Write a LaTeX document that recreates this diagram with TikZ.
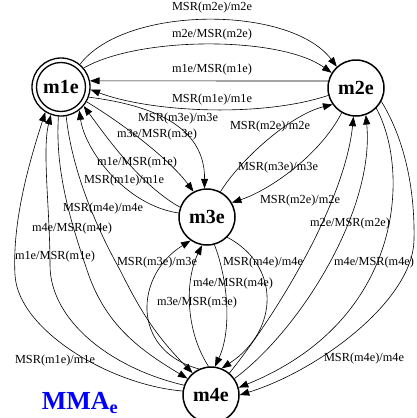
\documentclass[tikz,border=0pt]{standalone}
\usepackage{fontspec}
\setmainfont{Liberation Serif}
\usetikzlibrary{arrows.meta}
\newcommand\mylabfont{\fontsize{12.3}{14}\selectfont}
\newcommand\mynodefont{\fontsize{20}{24}\selectfont\bfseries}
\begin{document}
\begin{tikzpicture}[x=1pt,y=-1pt,
  st/.style={circle, draw, line width=1.5pt, minimum size=56pt, inner sep=0pt, font=\mynodefont},
  lab/.style={inner sep=0pt, font=\mylabfont},
  tr/.style={-{Triangle[length=9.5pt,width=7pt]}, line width=0.6pt}]
\fill[white] (0,0) rectangle (417,418);
\useasboundingbox (0,0) rectangle (417,418);
% states
\node[st, minimum size=58pt, line width=1.3pt] (m1e) at (61,87) {m1e};
\node[circle, draw, line width=1.3pt, minimum size=49pt, inner sep=0pt] (m1ein) at (m1e.center) {};
\node[st] (m2e) at (356,88) {m2e};
\node[st] (m3e) at (207,217) {m3e};
\node[st] (m4e) at (211,395) {m4e};
\node[inner sep=0pt, text=blue, font=\fontsize{26}{30}\selectfont\bfseries] (title) at (80,403) {MMA\textsubscript{e}};
% waypoints
\coordinate (w14) at (414,240);
\coordinate (w15) at (120,270);
\coordinate (w16) at (87,270);
\coordinate (w17) at (50,265);
\coordinate (w18) at (15,275);
% m1e <-> m2e
\draw[tr] (m1e.50) .. controls (125,5) and (290,5) .. (m2e.132);
\draw[tr] (m1e.40) .. controls (140,36) and (280,36) .. (m2e.148);
\draw[tr] (m2e.166) -- (m1e.12);
\draw[tr] (m2e.195) .. controls (260,118) and (150,112) .. (m1e.-5);
% m1e <-> m3e
\draw[tr] (m1e.-30) .. controls (125,125) and (170,160) .. (m3e.118);
\draw[tr] (m1e.-20) .. controls (150,105) and (205,125) .. (m3e.95);
\draw[tr] (m3e.160) .. controls (140,185) and (105,135) .. (m1e.-40);
\draw[tr] (m3e.172) .. controls (125,205) and (85,150) .. (m1e.-52);
% m2e <-> m3e
\draw[tr] (m3e.62) .. controls (240,160) and (290,115) .. (m2e.215);
\draw[tr] (m2e.240) .. controls (320,155) and (270,190) .. (m3e.30);
% m2e <-> m4e
\draw[tr] (m4e.50) .. controls (280,310) and (345,200) .. (m2e.-95);
\draw[tr] (m4e.35) .. controls (300,330) and (375,210) .. (m2e.-70);
\draw[tr] (m2e.-45) .. controls (410,170) and (405,320) .. (m4e.15);
\draw[tr] (m2e.-28) .. controls (405,140) and (415,190) .. (w14) .. controls (413,300) and (320,370) .. (m4e.0);
% m1e <-> m4e
\draw[tr] (m1e.-80) .. controls (72,170) and (95,225) .. (w15) .. controls (140,310) and (155,335) .. (m4e.130);
\draw[tr] (m1e.-95) .. controls (55,170) and (70,220) .. (w16) .. controls (105,325) and (140,350) .. (m4e.145);
\draw[tr] (m4e.160) .. controls (110,368) and (50,320) .. (w17) .. controls (50,210) and (42,150) .. (m1e.-110);
\draw[tr] (m4e.172) .. controls (110,385) and (18,330) .. (w18) .. controls (12,220) and (30,160) .. (m1e.-122);
% m3e <-> m4e
\draw[tr] (m4e.115) .. controls (130,350) and (135,275) .. (m3e.-125);
\draw[tr] (m4e.95) .. controls (185,330) and (185,280) .. (m3e.-100);
\draw[tr] (m3e.-45) .. controls (280,265) and (280,330) .. (m4e.68);
\draw[tr] (m3e.-75) .. controls (228,280) and (232,330) .. (m4e.82);
% labels
\node[lab] (l1) at (212,8) {MSR(m2e)/m2e};
\node[lab] (l2) at (212,35) {m2e/MSR(m2e)};
\node[lab] (l3) at (212,70) {m1e/MSR(m1e)};
\node[lab] (l4) at (212,100) {MSR(m1e)/m1e};
\node[lab] (l5) at (178,119) {MSR(m3e)/m3e};
\node[lab] (l6) at (157,135) {m3e/MSR(m3e)};
\node[lab] (l7) at (137,163) {m1e/MSR(m1e)};
\node[lab] (l8) at (124,181) {MSR(m1e)/m1e};
\node[lab] (l9) at (270,127) {MSR(m2e)/m2e};
\node[lab] (l10) at (278,168) {MSR(m3e)/m3e};
\node[lab] (l11) at (300,201) {MSR(m2e)/m2e};
\node[lab] (l12) at (350,224) {m2e/MSR(m2e)};
\node[lab] (l13) at (374,263) {m4e/MSR(m4e)};
\node[lab] (l14) at (364,359) {MSR(m4e)/m4e};
\node[lab] (l15) at (103,209) {MSR(m4e)/m4e};
\node[lab] (l16) at (72,229) {m4e/MSR(m4e)};
\node[lab] (l17) at (55,257) {m1e/MSR(m1e)};
\node[lab] (l18) at (55,361) {MSR(m1e)/m1e};
\node[lab] (l19) at (157,263) {MSR(m3e)/m3e};
\node[lab] (l20) at (197,303) {m3e/MSR(m3e)};
\node[lab] (l21) at (263,263) {MSR(m4e)/m4e};
\node[lab] (l22) at (233,284) {m4e/MSR(m4e)};
\end{tikzpicture}
\end{document}
